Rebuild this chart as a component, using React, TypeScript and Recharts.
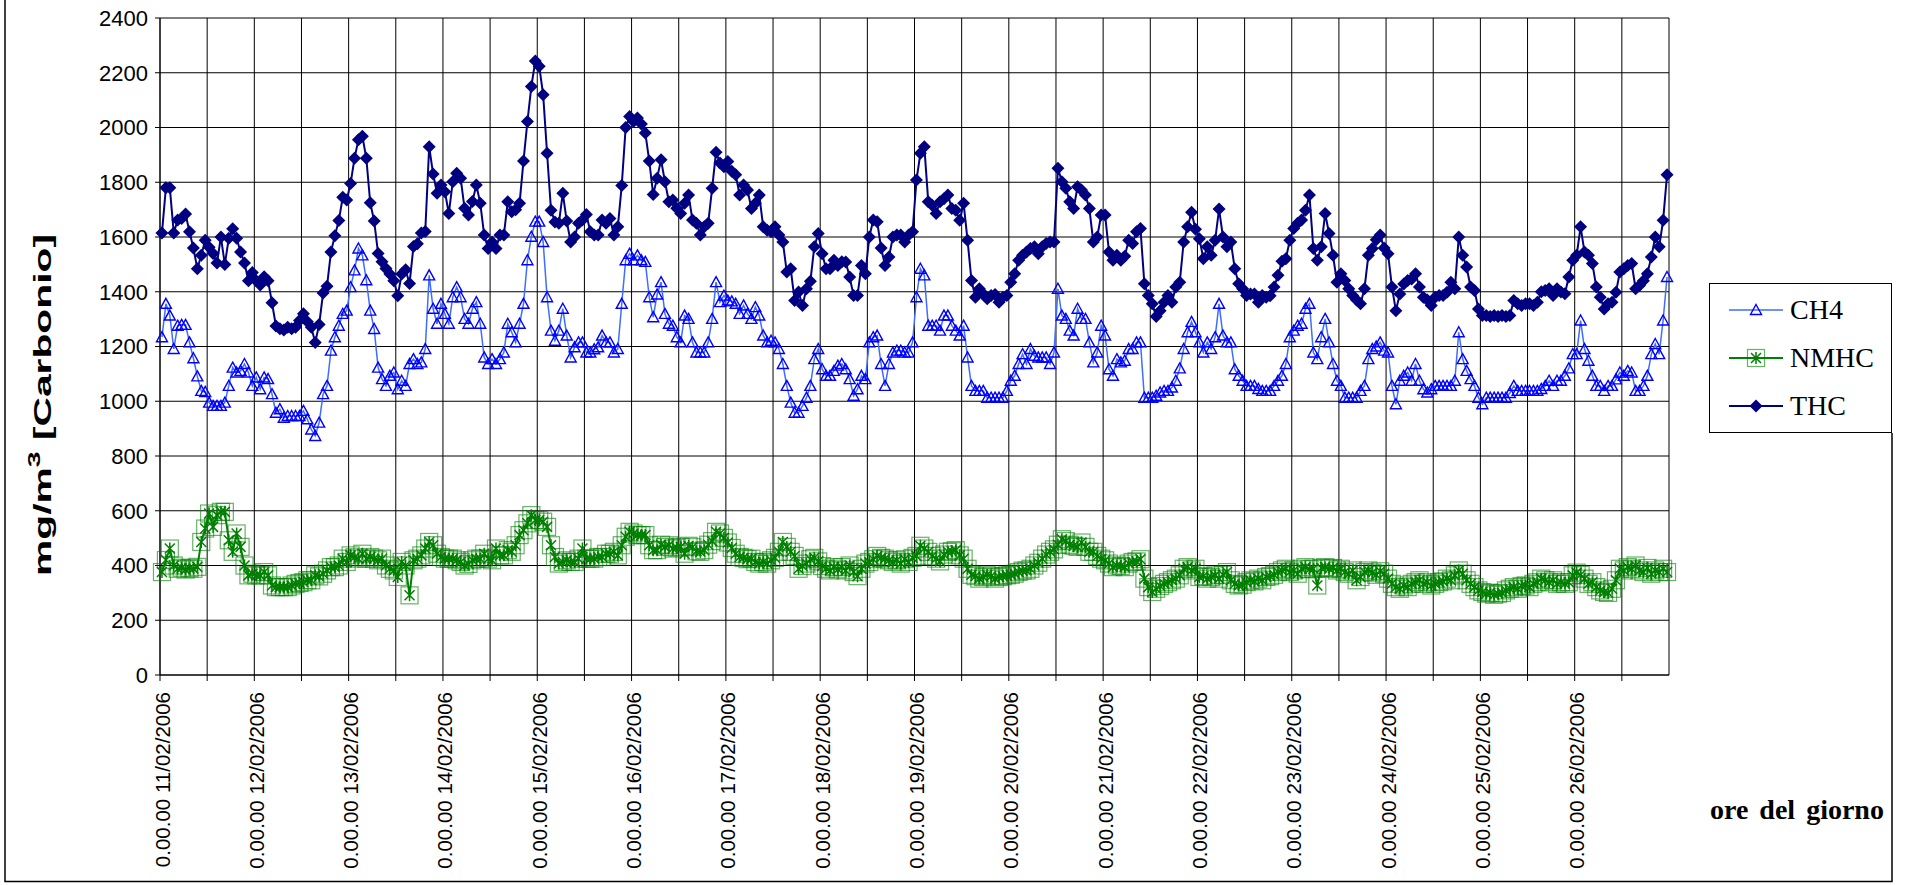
import React from "react";
import { LineChart, Line, XAxis, YAxis, CartesianGrid } from "recharts";

// hourly readings, 11/02/2006 00:00 -> 26/02/2006 23:00
const CH4 = [
  1234, 1356, 1313, 1191, 1276, 1279, 1279, 1215, 1157, 1091, 1038, 1034, 995, 983, 983, 983, 995, 1056, 1123, 1105, 1111, 1136, 1105, 1056,
  1087, 1044, 1087, 1081, 1026, 958, 971, 940, 946, 946, 946, 946, 965, 934, 897, 873, 922, 1026, 1056, 1185, 1234, 1276, 1319, 1331,
  1417, 1478, 1558, 1533, 1442, 1331, 1264, 1123, 1081, 1056, 1093, 1105, 1044, 1075, 1056, 1136, 1154, 1136, 1142, 1191, 1460, 1338, 1283, 1356,
  1319, 1283, 1380, 1417, 1380, 1301, 1283, 1338, 1362, 1283, 1160, 1136, 1154, 1136, 1154, 1178, 1283, 1252, 1215, 1283, 1356, 1515, 1601, 1656,
  1656, 1582, 1380, 1258, 1221, 1258, 1338, 1240, 1160, 1197, 1215, 1215, 1178, 1178, 1190, 1197, 1240, 1215, 1215, 1178, 1191, 1356, 1515, 1539,
  1515, 1533, 1515, 1509, 1380, 1307, 1390, 1435, 1319, 1283, 1276, 1234, 1215, 1313, 1301, 1215, 1178, 1178, 1178, 1215, 1301, 1435, 1362, 1386,
  1368, 1365, 1356, 1319, 1350, 1319, 1301, 1344, 1313, 1240, 1215, 1221, 1215, 1191, 1136, 1056, 995, 958, 958, 983, 1013, 1056, 1154, 1191,
  1117, 1093, 1093, 1111, 1130, 1136, 1117, 1081, 1020, 1044, 1093, 1081, 1215, 1234, 1240, 1136, 1056, 1136, 1178, 1185, 1185, 1178, 1178, 1215,
  1380, 1484, 1460, 1276, 1276, 1276, 1258, 1313, 1313, 1276, 1258, 1240, 1276, 1160, 1056, 1038, 1038, 1038, 1013, 1013, 1013, 1013, 1013, 1038,
  1075, 1093, 1136, 1172, 1136, 1191, 1166, 1160, 1160, 1160, 1136, 1178, 1411, 1313, 1301, 1258, 1240, 1338, 1301, 1301, 1215, 1142, 1178, 1276,
  1240, 1117, 1093, 1154, 1142, 1148, 1191, 1191, 1215, 1215, 1013, 1013, 1013, 1020, 1032, 1038, 1038, 1050, 1075, 1120, 1191, 1252, 1290, 1252,
  1215, 1178, 1215, 1191, 1234, 1356, 1240, 1215, 1215, 1117, 1093, 1075, 1056, 1056, 1056, 1045, 1038, 1038, 1038, 1056, 1075, 1093, 1136, 1234,
  1258, 1276, 1283, 1338, 1356, 1178, 1154, 1234, 1301, 1215, 1136, 1075, 1056, 1013, 1013, 1013, 1013, 1038, 1056, 1154, 1191, 1200, 1215, 1185,
  1178, 1056, 989, 1075, 1093, 1105, 1075, 1136, 1075, 1044, 1032, 1044, 1056, 1056, 1056, 1056, 1056, 1075, 1252, 1154, 1111, 1081, 1056, 1013,
  989, 1013, 1013, 1013, 1013, 1013, 1013, 1030, 1056, 1038, 1038, 1038, 1038, 1038, 1038, 1045, 1056, 1075, 1056, 1075, 1075, 1093, 1120, 1172,
  1172, 1295, 1191, 1148, 1093, 1056, 1056, 1038, 1056, 1056, 1080, 1105, 1093, 1111, 1105, 1038, 1038, 1056, 1093, 1172, 1209, 1172, 1295, 1454,
];

const NMHC = [
  376, 420, 462, 400, 388, 392, 385, 390, 388, 395, 486, 535, 590, 541, 584, 596, 596, 492, 450, 517, 468, 400, 364, 370,
  364, 364, 376, 364, 327, 321, 321, 321, 321, 327, 333, 336, 339, 346, 346, 364, 360, 370, 382, 394, 394, 400, 425, 413,
  437, 430, 425, 443, 425, 431, 425, 419, 425, 400, 388, 382, 358, 413, 400, 291, 419, 425, 437, 462, 486, 474, 443, 431,
  425, 425, 425, 419, 413, 400, 406, 419, 425, 425, 443, 425, 419, 462, 437, 437, 456, 450, 474, 511, 529, 554, 584, 566,
  566, 560, 541, 474, 431, 407, 413, 419, 413, 413, 425, 462, 425, 425, 425, 431, 431, 443, 443, 450, 437, 474, 505, 523,
  517, 511, 511, 511, 474, 456, 456, 476, 468, 474, 462, 465, 468, 443, 472, 467, 452, 450, 456, 476, 489, 523, 517, 501,
  484, 464, 443, 431, 428, 423, 425, 413, 407, 413, 407, 419, 428, 450, 486, 468, 450, 435, 388, 398, 407, 423, 428, 415,
  398, 388, 382, 394, 386, 394, 382, 400, 376, 361, 388, 407, 413, 423, 435, 428, 425, 419, 413, 419, 407, 423, 413, 428,
  435, 472, 462, 450, 435, 425, 415, 440, 450, 452, 456, 437, 425, 388, 366, 361, 352, 358, 366, 361, 352, 358, 361, 364,
  366, 370, 376, 381, 382, 388, 400, 410, 425, 440, 450, 459, 476, 496, 489, 476, 472, 468, 484, 468, 450, 450, 435, 425,
  419, 407, 394, 400, 398, 394, 407, 413, 415, 423, 352, 321, 303, 315, 325, 333, 339, 346, 352, 364, 388, 394, 382, 388,
  358, 361, 352, 358, 364, 352, 366, 376, 346, 333, 327, 330, 339, 346, 342, 352, 346, 358, 361, 366, 376, 382, 388, 376,
  382, 370, 388, 394, 386, 388, 327, 391, 394, 388, 391, 382, 388, 376, 370, 382, 346, 358, 376, 382, 374, 366, 379, 370,
  352, 333, 321, 315, 327, 321, 333, 339, 346, 333, 339, 327, 333, 339, 342, 352, 346, 364, 382, 370, 346, 333, 321, 309,
  303, 297, 300, 293, 297, 300, 309, 315, 321, 315, 325, 327, 321, 333, 339, 352, 346, 339, 346, 333, 339, 333, 339, 364,
  374, 366, 352, 333, 339, 321, 309, 303, 300, 315, 346, 388, 382, 394, 388, 400, 382, 376, 391, 370, 382, 376, 388, 376,
];

const THC = [
  1615, 1780, 1780, 1615, 1662, 1668, 1684, 1619, 1560, 1484, 1533, 1588, 1563, 1540, 1505, 1600, 1500, 1595, 1630, 1595, 1545, 1505, 1440, 1470,
  1440, 1425, 1455, 1440, 1360, 1275, 1265, 1260, 1270, 1265, 1270, 1295, 1320, 1290, 1270, 1215, 1280, 1395, 1420, 1545, 1605, 1660, 1745, 1735,
  1795, 1888, 1955, 1968, 1888, 1725, 1658, 1540, 1510, 1485, 1465, 1440, 1385, 1465, 1480, 1430, 1565, 1575, 1615, 1620, 1930, 1830, 1760, 1790,
  1765, 1686, 1802, 1833, 1815, 1705, 1680, 1730, 1790, 1723, 1607, 1558, 1582, 1558, 1607, 1607, 1729, 1692, 1700, 1723, 1878, 2022, 2150, 2243,
  2224, 2120, 1906, 1698, 1655, 1650, 1760, 1658, 1582, 1600, 1650, 1662, 1682, 1619, 1607, 1607, 1662, 1650, 1668, 1607, 1637, 1788, 2000, 2040,
  2022, 2035, 2013, 1980, 1878, 1755, 1815, 1882, 1802, 1729, 1735, 1705, 1686, 1723, 1753, 1662, 1650, 1607, 1637, 1650, 1778, 1910, 1870, 1857,
  1876, 1840, 1827, 1753, 1790, 1772, 1704, 1723, 1753, 1637, 1625, 1619, 1637, 1607, 1582, 1472, 1484, 1368, 1399, 1350, 1411, 1438, 1564, 1613,
  1539, 1484, 1484, 1515, 1496, 1510, 1509, 1454, 1386, 1386, 1496, 1466, 1600, 1662, 1656, 1560, 1496, 1527, 1600, 1607, 1607, 1582, 1607, 1619,
  1808, 1906, 1930, 1729, 1716, 1686, 1729, 1740, 1753, 1704, 1698, 1661, 1723, 1588, 1441, 1380, 1411, 1393, 1374, 1386, 1390, 1362, 1380, 1386,
  1435, 1466, 1515, 1533, 1545, 1558, 1564, 1539, 1564, 1576, 1582, 1582, 1851, 1802, 1778, 1729, 1704, 1784, 1772, 1753, 1704, 1582, 1600, 1680,
  1680, 1545, 1515, 1533, 1515, 1530, 1588, 1576, 1619, 1631, 1429, 1386, 1356, 1310, 1331, 1362, 1386, 1362, 1417, 1435, 1582, 1637, 1690, 1628,
  1594, 1521, 1564, 1533, 1588, 1702, 1600, 1564, 1582, 1484, 1429, 1411, 1386, 1392, 1392, 1362, 1386, 1380, 1385, 1417, 1460, 1511, 1521, 1588,
  1631, 1650, 1662, 1698, 1753, 1558, 1515, 1564, 1686, 1613, 1533, 1435, 1466, 1441, 1411, 1386, 1370, 1356, 1411, 1533, 1558, 1590, 1607, 1560,
  1539, 1417, 1331, 1392, 1428, 1441, 1447, 1466, 1417, 1380, 1370, 1350, 1380, 1386, 1386, 1398, 1435, 1411, 1600, 1533, 1490, 1417, 1405, 1337,
  1313, 1313, 1310, 1313, 1310, 1313, 1310, 1313, 1368, 1356, 1350, 1356, 1356, 1350, 1362, 1400, 1405, 1411, 1386, 1411, 1399, 1393, 1454, 1515,
  1533, 1637, 1545, 1533, 1503, 1417, 1380, 1337, 1356, 1362, 1398, 1472, 1484, 1496, 1503, 1411, 1423, 1440, 1466, 1527, 1600, 1564, 1661, 1827,
];

const DAYS = [
  "11/02/2006", "12/02/2006", "13/02/2006", "14/02/2006", "15/02/2006", "16/02/2006", "17/02/2006", "18/02/2006",
  "19/02/2006", "20/02/2006", "21/02/2006", "22/02/2006", "23/02/2006", "24/02/2006", "25/02/2006", "26/02/2006",
];

const Y_TICKS = [0, 200, 400, 600, 800, 1000, 1200, 1400, 1600, 1800, 2000, 2200, 2400];
// tick marks / vertical grid every 12 hours, date label every 24
const X_TICKS = Array.from({ length: 32 }, (_, k) => k * 12);

const data = CH4.map((v, i) => ({ t: i + 0.5, ch4: v, nmhc: NMHC[i], thc: THC[i] }));

const SANS = "'Liberation Sans', Arial, sans-serif";
const SERIF = "'Liberation Serif', 'Times New Roman', serif";

const C_CH4_LINE = "#3f6dff";
const C_CH4_MARK = "#0000ff";
const C_NMHC = "#008000";
const C_THC = "#000080";

function TriangleMark(p: any) {
  const { cx, cy, index } = p;
  if (cx == null || cy == null) return <g key={`c${index}`} />;
  return (
    <polygon
      key={`c${index}`}
      points={`${cx},${cy - 5.5} ${cx + 5.5},${cy + 4.5} ${cx - 5.5},${cy + 4.5}`}
      fill="none"
      stroke={C_CH4_MARK}
      strokeWidth={1.4}
    />
  );
}

function StarSquareMark(p: any) {
  const { cx, cy, index } = p;
  if (cx == null || cy == null) return <g key={`n${index}`} />;
  return (
    <g key={`n${index}`}>
      <rect x={cx - 8.5} y={cy - 8.5} width={17} height={17} fill="none" stroke={C_NMHC} strokeOpacity={0.6} strokeWidth={1.2} />
      <path
        d={`M${cx - 5},${cy - 5}L${cx + 5},${cy + 5}M${cx - 5},${cy + 5}L${cx + 5},${cy - 5}M${cx},${cy - 6}L${cx},${cy + 6}`}
        stroke={C_NMHC}
        strokeWidth={1.5}
      />
    </g>
  );
}

function DiamondMark(p: any) {
  const { cx, cy, index } = p;
  if (cx == null || cy == null) return <g key={`t${index}`} />;
  return (
    <polygon
      key={`t${index}`}
      points={`${cx},${cy - 6.5} ${cx + 6.5},${cy} ${cx},${cy + 6.5} ${cx - 6.5},${cy}`}
      fill={C_THC}
    />
  );
}

function DayTick(p: any) {
  const { x, y, payload } = p;
  const h = payload?.value ?? 0;
  if (h % 24 !== 0) return <g />;
  const label = DAYS[h / 24];
  return (
    <text
      x={x + 2}
      y={y}
      transform={`rotate(-90 ${x + 2} ${y})`}
      textAnchor="end"
      dominantBaseline="central"
      fontFamily={SANS}
      fontSize={20.5}
      fill="#000"
    >
      {`0.00.00 ${label}`}
    </text>
  );
}

const LEGEND_ITEMS = [
  { name: "CH4", kind: "tri" },
  { name: "NMHC", kind: "star" },
  { name: "THC", kind: "dia" },
];

function LegendBox() {
  return (
    <div
      style={{
        position: "absolute",
        left: 1709,
        top: 283,
        width: 183,
        height: 150,
        border: "1.5px solid #000",
        background: "#fff",
        boxSizing: "border-box",
      }}
    >
      {LEGEND_ITEMS.map((it, k) => (
        <div key={it.name} style={{ position: "absolute", left: 0, top: 7 + k * 48, height: 38, display: "flex", alignItems: "center" }}>
          <svg width={80} height={38} style={{ display: "block" }}>
            {it.kind === "tri" && (
              <>
                <line x1={19} x2={73} y1={19} y2={19} stroke={C_CH4_LINE} strokeWidth={1.5} />
                <TriangleMark cx={46} cy={19} index={0} />
              </>
            )}
            {it.kind === "star" && (
              <>
                <line x1={19} x2={73} y1={19} y2={19} stroke={C_NMHC} strokeWidth={2} />
                <StarSquareMark cx={46} cy={19} index={0} />
              </>
            )}
            {it.kind === "dia" && (
              <>
                <line x1={19} x2={73} y1={19} y2={19} stroke={C_THC} strokeWidth={2} />
                <DiamondMark cx={46} cy={19} index={0} />
              </>
            )}
          </svg>
          <span style={{ fontFamily: SERIF, fontSize: 28, color: "#000", lineHeight: "38px" }}>{it.name}</span>
        </div>
      ))}
    </div>
  );
}

export default function App() {
  return (
    <div style={{ position: "absolute", left: 0, top: 0, width: 1914, height: 885, background: "#fff", overflow: "hidden" }}>
      <LineChart width={1914} height={885} data={data} margin={{ top: 18, right: 245, bottom: 10, left: 100 }}>
        <CartesianGrid stroke="#000" strokeWidth={1} />
        <XAxis
          dataKey="t"
          type="number"
          domain={[0, 384]}
          ticks={X_TICKS}
          interval={0}
          height={200}
          tickSize={6}
          tickMargin={11}
          tick={<DayTick />}
          axisLine={{ stroke: "#000" }}
          tickLine={{ stroke: "#000" }}
        />
        <YAxis
          type="number"
          domain={[0, 2400]}
          ticks={Y_TICKS}
          interval={0}
          width={60}
          tickSize={5}
          tickMargin={7}
          tick={{ fontFamily: SANS, fontSize: 22, fill: "#000" }}
          axisLine={{ stroke: "#000" }}
          tickLine={{ stroke: "#000" }}
        />
        <Line dataKey="ch4" stroke={C_CH4_LINE} strokeWidth={1.5} dot={TriangleMark} activeDot={false} isAnimationActive={false} />
        <Line dataKey="nmhc" stroke={C_NMHC} strokeWidth={2} dot={StarSquareMark} activeDot={false} isAnimationActive={false} />
        <Line dataKey="thc" stroke={C_THC} strokeWidth={2} dot={DiamondMark} activeDot={false} isAnimationActive={false} />
      </LineChart>
      <LegendBox />
      <svg width={1914} height={885} style={{ position: "absolute", left: 0, top: 0, pointerEvents: "none" }}>
        <text
          transform="translate(51 405) rotate(-90)"
          textAnchor="middle"
          fontFamily={SANS}
          fontWeight="bold"
          fontSize={23}
          textLength={342}
          lengthAdjust="spacingAndGlyphs"
          fill="#000"
        >
          <tspan>mg/m</tspan>
          <tspan dy={-11} fontSize={16}>3</tspan>
          <tspan dy={11}> [Carbonio]</tspan>
        </text>
        <text x={1710} y={819} fontFamily={SERIF} fontWeight="bold" fontSize={28} fill="#000" wordSpacing={4}>
          ore del giorno
        </text>
        <polyline points="5,-2 5,881.5 1892,881.5 1892,433" fill="none" stroke="#000" strokeWidth={1.5} />
      </svg>
    </div>
  );
}
